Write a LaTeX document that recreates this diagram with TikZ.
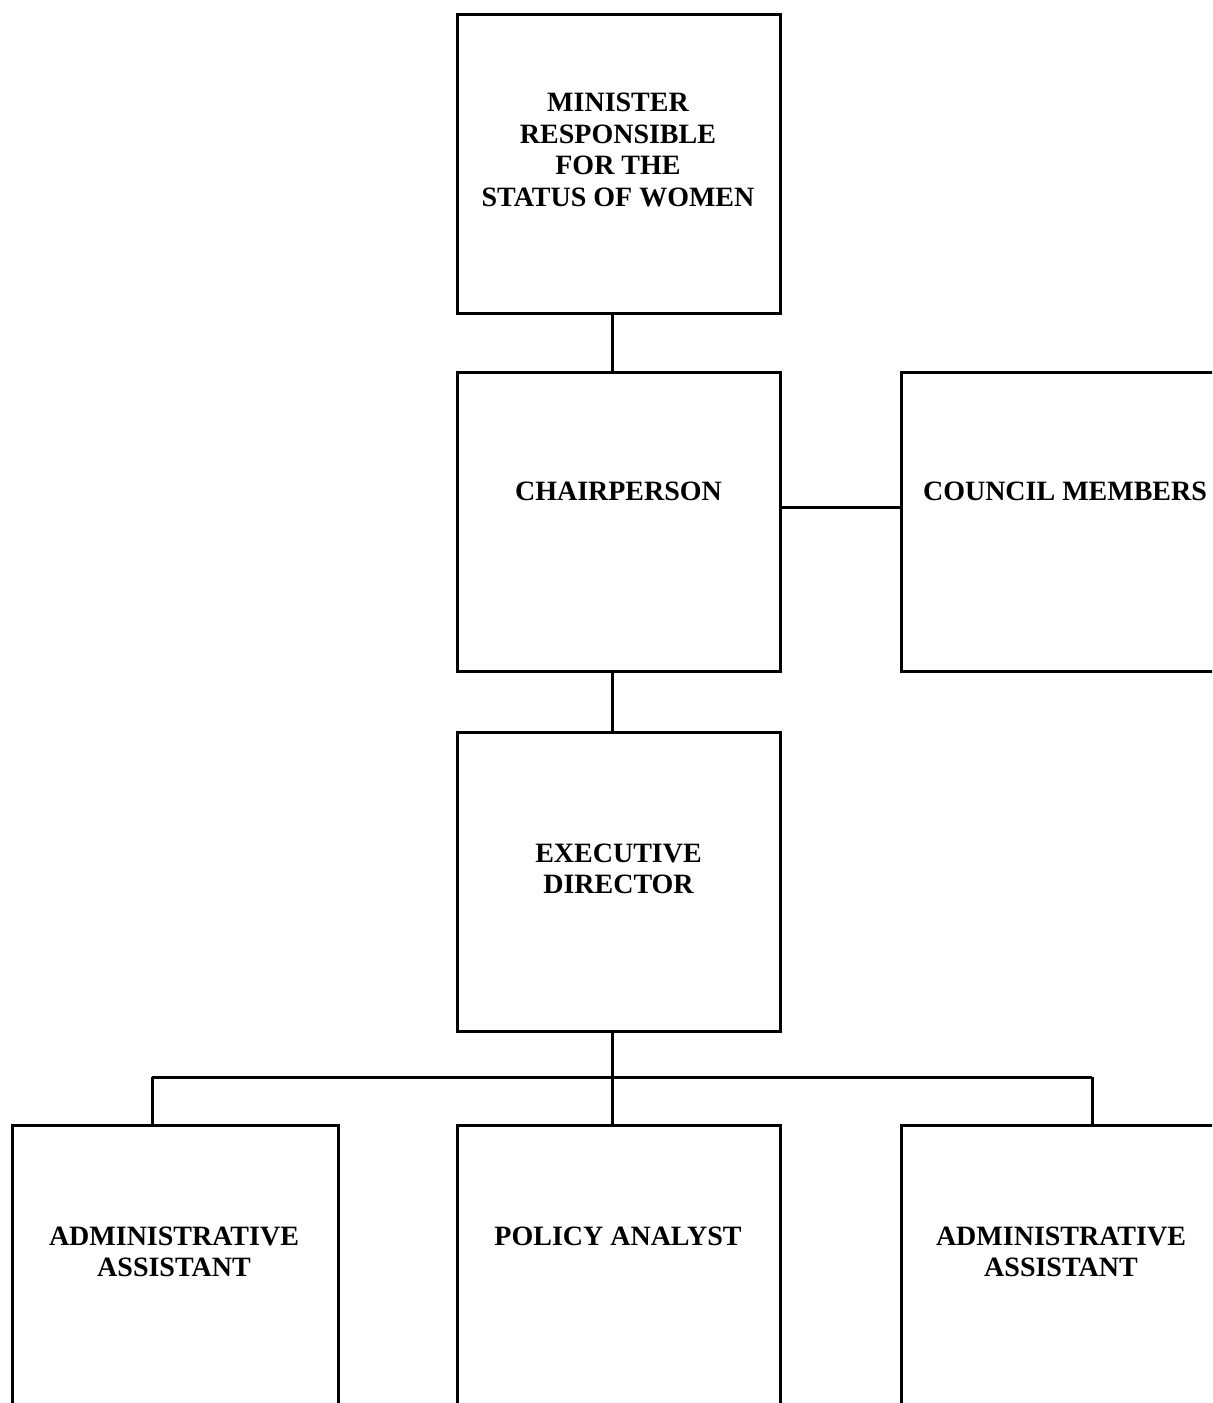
\documentclass[tikz,border=0pt]{standalone}
\usepackage{fontspec}
\setmainfont{Liberation Serif}
\begin{document}
\begin{tikzpicture}[x=0.5pt,y=-0.5pt,
  box/.style={draw,line width=1.5pt,minimum width=161.5pt,minimum height=149.5pt,inner sep=0pt},
  wbox/.style={box,minimum width=163pt},
  lbl/.style={font=\fontsize{14pt}{15.7pt}\selectfont\bfseries,align=center,inner sep=0pt},
  conn/.style={line width=1.5pt}]
\useasboundingbox (0,0) rectangle (1212,1403);
\clip (0,0) rectangle (1212,1403);
% boxes
\node[box] (min) at (618.5,163.5) {};
\node[box] (chair) at (618.5,522) {};
\node[box] (council) at (1062.5,522) {};
\node[box] (exec) at (618.5,881.5) {};
\node[wbox] (aa1) at (175,1274.5) {};
\node[box] (pa) at (618.5,1274.5) {};
\node[box] (aa2) at (1062.5,1274.5) {};
% labels
\node[lbl] (tmin) at (618,150) {MINISTER\\RESPONSIBLE\\FOR THE\\STATUS OF WOMEN};
\node[lbl] (tchair) at (618.5,491) {CHAIRPERSON};
\node[lbl] (tcouncil) at (1065,491) {COUNCIL MEMBERS};
\node[lbl] (texec) at (618.5,869) {EXECUTIVE\\DIRECTOR};
\node[lbl] (taa1) at (174,1252) {ADMINISTRATIVE\\ASSISTANT};
\node[lbl] (tpa) at (618,1236) {POLICY ANALYST};
\node[lbl] (taa2) at (1061,1252) {ADMINISTRATIVE\\ASSISTANT};
% junction coordinates
\coordinate (jx) at (612,0);
\coordinate (cy) at (0,507);
\coordinate (bus) at (612,1077);
\coordinate (dl) at (152,1077);
\coordinate (dr) at (1092,1077);
% connectors
\draw[conn] (min.south -| jx) -- (chair.north -| jx);
\draw[conn] (chair.south -| jx) -- (exec.north -| jx);
\draw[conn] (chair.east |- cy) -- (council.west |- cy);
\draw[conn] (exec.south -| jx) -- (bus);
\draw[conn] (dl) -- (dr);
\draw[conn] (dl) -- (dl |- aa1.north);
\draw[conn] (bus) -- (bus |- pa.north);
\draw[conn] (dr) -- (dr |- aa2.north);
\end{tikzpicture}
\end{document}
